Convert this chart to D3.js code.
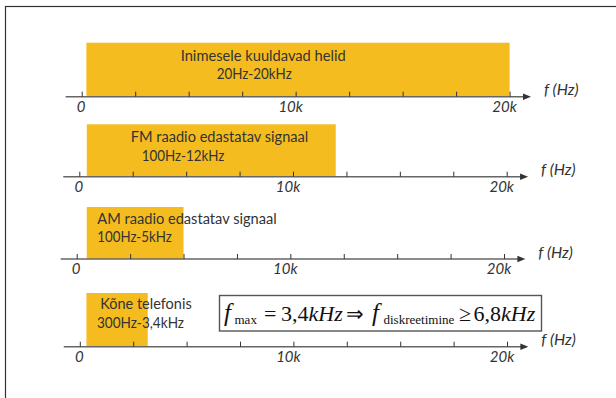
<!DOCTYPE html>
<html>
<head>
<meta charset="utf-8">
<script src="https://cdn.jsdelivr.net/npm/d3@7"></script>
<style>
  html, body { margin: 0; padding: 0; background: #fff; }
  svg { display: block; }
</style>
</head>
<body>
<svg id="chart" width="616" height="398"></svg>
<script>
// ---------- DATA ----------
const bandNames = ["Inimesele kuuldavad helid", "FM raadio edastatav signaal", "AM raadio edastatav signaal", "Kõne telefonis"];
const bandRanges = ["20Hz-20kHz", "100Hz-12kHz", "100Hz-5kHz", "300Hz-3,4kHz"];
const bandStart = [220, 350, 470, 310];      // Hz, as drawn
const bandEnd = [20000, 12000, 5000, 3180];  // Hz, as drawn
const tickValues = [0, 2500, 5000, 7500, 10000, 12500, 15000, 17500, 20000];
const tickLabelValues = [0, 10000, 20000];
const tickLabelTexts = ["0", "10k", "20k"];
const axisTitle = "f (Hz)";
const axisMin = -750, axisMax = 21000;

// ---------- LAYOUT (positions only) ----------
const panelAxisY = [96.7, 176.7, 259, 346.7];
const panelBarTop = [42.7, 124.3, 207, 293];
const panelX0 = [81.7, 79.3, 76.7, 79.8];
const panelX20 = [509.6, 506.7, 504, 507];
const labelPos = [
  [[180.7, 61, 165], [216.7, 79.3, 75]],
  [[130.7, 142.3, 177.6], [141.7, 161, 82.6]],
  [[97.3, 224.3, 179.4], [97.3, 242.3, 74.4]],
  [[100.2, 309.3, 91.5], [97, 328.3, 87]]
];

const svg = d3.select("#chart");
const textColor = "#333";
const barColor = "#f5bc1f";
const sansFont = "Lato, 'Open Sans', sans-serif";

// frame
svg.append("rect")
  .attr("x", 5.5).attr("y", 6.5).attr("width", 800).attr("height", 600)
  .attr("fill", "none").attr("stroke", "#333").attr("stroke-width", 1.2);

bandNames.forEach((name, i) => {
  const x = d3.scaleLinear().domain([0, 20000]).range([panelX0[i], panelX20[i]]);
  const ay = panelAxisY[i];
  const g = svg.append("g");

  // bar
  g.append("rect")
    .attr("x", x(bandStart[i]))
    .attr("y", panelBarTop[i])
    .attr("width", x(bandEnd[i]) - x(bandStart[i]))
    .attr("height", ay - panelBarTop[i])
    .attr("fill", barColor);

  // labels
  [name, bandRanges[i]].forEach((t, j) => {
    const p = labelPos[i][j];
    g.append("text")
      .attr("x", p[0]).attr("y", p[1])
      .attr("font-family", sansFont)
      .attr("font-size", 14.5)
      .attr("fill", textColor)
      .attr("textLength", p[2]).attr("lengthAdjust", "spacingAndGlyphs")
      .text(t);
  });

  // axis line
  const tipX = x(axisMax);
  g.append("line")
    .attr("x1", x(axisMin)).attr("x2", tipX - 4)
    .attr("y1", ay).attr("y2", ay)
    .attr("stroke", "#666").attr("stroke-width", 1.5);
  g.append("path")
    .attr("d", `M${tipX},${ay} L${tipX - 8},${ay - 3.2} L${tipX - 8},${ay + 3.2} Z`)
    .attr("fill", "#333");

  // ticks via d3 axis
  const axis = d3.axisBottom(x)
    .tickValues(tickValues)
    .tickSizeInner(-5)
    .tickSizeOuter(0)
    .tickPadding(4.5)
    .tickFormat(d => {
      const k = tickLabelValues.indexOf(d);
      return k >= 0 ? tickLabelTexts[k] : "";
    });
  const ag = g.append("g").attr("transform", `translate(0,${ay})`).call(axis);
  ag.select(".domain").remove();
  ag.selectAll(".tick line").attr("stroke", "#333").attr("stroke-width", 1);
  ag.selectAll(".tick text")
    .attr("font-family", sansFont)
    .attr("font-style", "italic")
    .attr("font-size", 15)
    .attr("fill", textColor)
    .attr("dx", d => d === 0 ? -1 : -5.5);

  // axis title
  g.append("text")
    .attr("x", tipX + 13).attr("y", ay - 1.5)
    .attr("font-family", sansFont)
    .attr("font-style", "italic")
    .attr("font-size", 15)
    .attr("fill", textColor)
    .attr("textLength", 34.5).attr("lengthAdjust", "spacingAndGlyphs")
    .text(axisTitle);
});

// formula box
const fb = svg.append("g");
fb.append("rect")
  .attr("x", 219.5).attr("y", 295.5).attr("width", 322).attr("height", 35.5)
  .attr("fill", "#fff").attr("stroke", "#555").attr("stroke-width", 1.4);
const serif = "'Liberation Serif', 'Times New Roman', serif";
const base = 320.7, sub = 323.8;
const pieces = [
  {t: "f", x: 224, y: base, s: 25, it: true},
  {t: "max", x: 234.5, y: sub, s: 13},
  {t: "=", x: 264, y: base, s: 22},
  {t: "3,4", x: 281, y: base, s: 22, tail: "kHz"},
  {t: "⇒", x: 346, y: base, s: 21},
  {t: "f", x: 372, y: base, s: 25, it: true},
  {t: "diskreetimine", x: 383.5, y: sub, s: 13},
  {t: "≥", x: 459, y: base, s: 22},
  {t: "6,8", x: 473.5, y: base, s: 22, tail: "kHz"}
];
pieces.forEach(p => {
  const t = fb.append("text")
    .attr("x", p.x).attr("y", p.y)
    .attr("font-family", serif)
    .attr("font-size", p.s)
    .attr("fill", "#111")
    .attr("font-style", p.it ? "italic" : "normal");
  t.append("tspan").text(p.t);
  if (p.tail) t.append("tspan").attr("font-style", "italic").text(p.tail);
});
</script>
</body>
</html>
